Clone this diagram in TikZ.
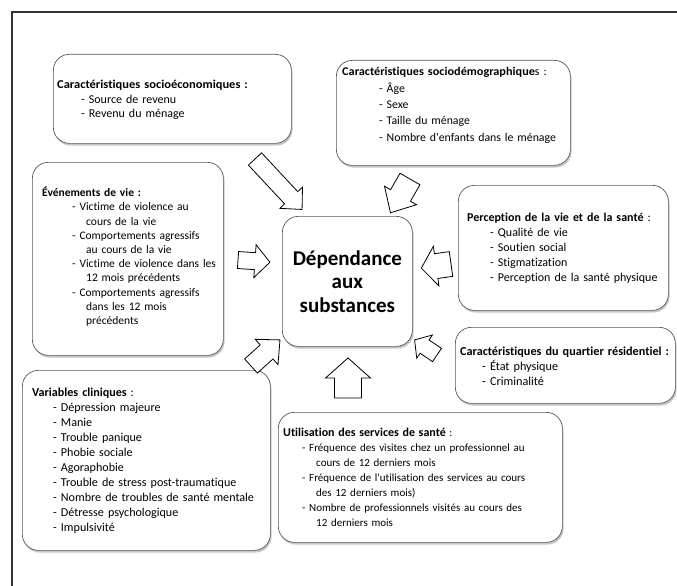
\documentclass[tikz,border=0pt]{standalone}
\usepackage{fontspec}
\setmainfont{Carlito}[Ligatures={TeX,NoCommon}]
\usetikzlibrary{shadows,positioning}

\newlength{\itemind}
\newcommand{\itm}[1]{\\\hspace*{\itemind}- #1}
\newcommand{\cnt}[1]{\\\hspace*{\itemind}\hspace*{14pt}#1}
\newcommand{\widebf}[1]{\textbf{\addfontfeature{FakeStretch=1.04}#1}}

\tikzset{
  factor/.style={draw=black!65, line width=0.7pt, fill=white, rounded corners=16pt,
    drop shadow={shadow xshift=1.2pt, shadow yshift=-2.2pt, opacity=0.45},
    anchor=north west, inner sep=0pt},
  factortext/.style={anchor=north west, inner sep=0pt, text width=300pt, align=left,
    execute at begin node={\rule{0pt}{11.5pt}}},
  fsize/.style 2 args={font=\fontsize{#1}{#2}\selectfont},
  ind/.code={\setlength{\itemind}{#1}},
  bigarrow/.style={draw=black, line width=0.8pt, fill=white, line join=miter},
}

\begin{document}
\begin{tikzpicture}[x=1pt, y=-1pt]
    \useasboundingbox (0,0) rectangle (677,586);
    \draw[line width=2pt, black!80] (12,586) -- (12,12) -- (677,12);

    % boxes of the factors
    \node[factor, minimum width=238pt, minimum height=89pt]  (socioeco)   at (53,54)   {};
    \node[factor, minimum width=234pt, minimum height=105pt] (sociodemo)  at (336,60)  {};
    \node[factor, minimum width=191pt, minimum height=193pt] (events)     at (32,162)  {};
    \node[factor, minimum width=210pt, minimum height=125pt] (perception) at (458,185) {};
    \node[factor, minimum width=220pt, minimum height=76pt]  (quartier)   at (455,327) {};
    \node[factor, minimum width=248pt, minimum height=180pt] (clinical)   at (22,370)  {};
    \node[factor, minimum width=284pt, minimum height=130pt] (services)   at (278,412) {};

    % central outcome
    \node[factor, minimum width=130pt, minimum height=130pt, align=center,
          font=\bfseries\fontsize{21}{23.5}\selectfont] (dependance) at (282,216)
          {Dépendance\\aux\\substances};

    % texts of the factors
    \node[factortext, fsize={12}{14.5}, ind=24pt] at ([shift={(4,23)}]socioeco.north west)
        {\widebf{Caractéristiques socioéconomiques :}
         \itm{Source de revenu}
         \itm{Revenu du ménage}};
    \node[factortext, fsize={11.8}{16.4}, ind=37pt] at ([shift={(6,4)}]sociodemo.north west)
        {\widebf{Caractéristiques sociodémographique}s :
         \itm{Âge}
         \itm{Sexe}
         \itm{Taille du ménage}
         \itm{Nombre d\textquotesingle enfants dans le ménage}};
    \node[factortext, fsize={11.5}{14.2}, ind=30pt] at ([shift={(10,23)}]events.north west)
        {\textbf{Événements de vie :}
         \itm{Victime de violence au}
         \cnt{cours de la vie}
         \itm{Comportements agressifs}
         \cnt{au cours de la vie}
         \itm{Victime de violence dans les}
         \cnt{12 mois précédents}
         \itm{Comportements agressifs}
         \cnt{dans les 12 mois}
         \cnt{précédents}};
    \node[factortext, fsize={12}{15}, ind=23pt] at ([shift={(9,25)}]perception.north west)
        {\textbf{Perception de la vie et de la santé} :
         \itm{Qualité de vie}
         \itm{Soutien social}
         \itm{Stigmatization}
         \itm{Perception de la santé physique}};
    \node[factortext, fsize={12.2}{15}, ind=22pt] at ([shift={(5,17)}]quartier.north west)
        {\textbf{Caractéristiques du quartier résidentiel :}
         \itm{État physique}
         \itm{Criminalité}};
    \node[factortext, fsize={12.1}{15}, ind=21pt] at ([shift={(10,15)}]clinical.north west)
        {\textbf{Variables cliniques} :
         \itm{Dépression majeure}
         \itm{Manie}
         \itm{Trouble panique}
         \itm{Phobie sociale}
         \itm{Agoraphobie}
         \itm{Trouble de stress post-traumatique}
         \itm{Nombre de troubles de santé mentale}
         \itm{Détresse psychologique}
         \itm{Impulsivité}};
    \node[factortext, fsize={11}{15}, ind=19pt] at ([shift={(5,13)}]services.north west)
        {\textbf{\fontsize{12}{15}\selectfont Utilisation des services de santé} :
         \itm{Fréquence des visites chez un professionnel au}
         \cnt{cours de 12 derniers mois}
         \itm{Fréquence de l\textquotesingle utilisation des services au cours}
         \cnt{des 12 derniers mois)}
         \itm{Nombre de professionnels visités au cours des}
         \cnt{12 derniers mois}};

    % block arrows: tail x/tail y/angle/length/shaft/head width/head length
    \foreach \tx/\ty/\ang/\len/\sw/\hw/\hl in {
        255/159/-47/69/18/31/16,
        410/179/-120/39/23/37/20,
        238/260/-4/32/17/33/15,
        451/264/188/30/25/40/15,
        251/366/42/39/19/34/18,
        348/398/90/40/27/45/20,
        437/355/146/27/16/28/12} {
        \draw[bigarrow, shift={(\tx,\ty)}, rotate=\ang]
            (0,-\sw/2) -- (\len-\hl,-\sw/2) -- (\len-\hl,-\hw/2) -- (\len,0)
            -- (\len-\hl,\hw/2) -- (\len-\hl,\sw/2) -- (0,\sw/2) -- cycle;
    }
\end{tikzpicture}
\end{document}
